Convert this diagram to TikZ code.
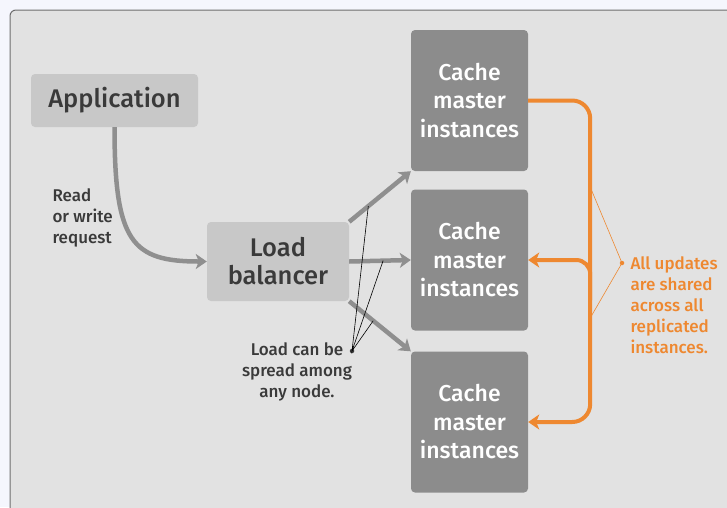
\documentclass[tikz,border=0pt]{standalone}
\usepackage{fontspec}
\setmainfont{Fira Sans}[BoldFont={Fira Sans Medium}]
\usetikzlibrary{arrows.meta,positioning}
\definecolor{pagebg}{HTML}{F5F6FD}
\definecolor{panelbg}{HTML}{E2E2E2}
\definecolor{panelrule}{HTML}{6E6E6E}
\definecolor{lightbox}{HTML}{C8C8C8}
\definecolor{darkbox}{HTML}{8C8C8C}
\definecolor{linkgray}{HTML}{8F8F8F}
\definecolor{textgray}{HTML}{3A3A3A}
\definecolor{updorange}{HTML}{EE8830}
\tikzset{
  lightnode/.style={fill=lightbox, rounded corners=4pt, text=textgray, align=center,
    font=\fontsize{25.5}{28}\selectfont\bfseries},
  cachenode/.style={fill=darkbox, rounded corners=4pt, text=white, align=center,
    minimum width=117pt, minimum height=141pt, font=\fontsize{23}{28.5}\selectfont\bfseries},
  link/.style={draw=linkgray, line width=4.5pt, -{Stealth[length=11pt,width=15pt,inset=3pt]}},
  update/.style={draw=updorange, line width=4pt, rounded corners=18pt,
    -{Stealth[length=11pt,width=15pt,inset=3pt]}},
  note/.style={text=textgray, font=\fontsize{17}{21}\selectfont\bfseries},
  calldot/.style={circle, inner sep=0pt, minimum size=4.5pt},
}
\begin{document}
\begin{tikzpicture}[x=1pt,y=-1pt]
\useasboundingbox (0,0) rectangle (727,507);
\fill[pagebg] (0,0) rectangle (727,507);
\draw[panelrule, fill=panelbg, line width=1pt, rounded corners=6pt] (10,10) rectangle (745,525);

\node[lightnode, minimum width=167pt, minimum height=53pt] (app) at (114.5,100.5) {Application};
\node[lightnode, minimum width=142pt, minimum height=79pt] (lb) at (278,261.5) {Load\\balancer};
\node[cachenode] (c1) at (469.5,100.5) {Cache\\master\\instances};
\node[cachenode] (c2) at (469.5,260) {Cache\\master\\instances};
\node[cachenode] (c3) at (469.5,422) {Cache\\master\\instances};

% request path
\draw[link] (app.south) .. controls +(0,115) and +(-75,0) .. (lb.west);
\node[note, anchor=west, align=left] (req) at (49,218) {Read\\or write\\request};

% balancer to the instances
\draw[link] (lb.north east) -- (c1.south west) coordinate[pos=0.31] (t1);
\draw[link] (lb.east) -- (c2.west) coordinate[pos=0.55] (t2);
\draw[link] (lb.south east) -- (c3.north west) coordinate[pos=0.39] (t3);

\node[calldot, fill=textgray] (ldot) at (352,351) {};
\draw[black, line width=0.6pt] (t1) -- (ldot.center) -- (t2) (ldot.center) -- (t3);
\node[note, align=center] (spread) at (297,372) {Load can be\\spread among\\any node.};

% replication
\coordinate (bus) at ([xshift=62pt]c1.east);
\draw[update] (c1.east) -- (bus) -- (bus |- c3.east) -- (c3.east);
\draw[update, rounded corners=14pt] ([yshift=-40pt]bus |- c2.east) -- (bus |- c2.east) -- (c2.east);

\coordinate (u1) at (bus |- 0,187);
\coordinate (u2) at (bus |- 0,318);
\node[calldot, fill=updorange] (udot) at (622,263) {};
\draw[updorange, line width=0.6pt] (u1) -- (udot.center) -- (u2);
\node[note, text=updorange, anchor=west, align=left] (upd) at (627,305)
  {All updates\\are shared\\across all\\replicated\\instances.};
\end{tikzpicture}
\end{document}
